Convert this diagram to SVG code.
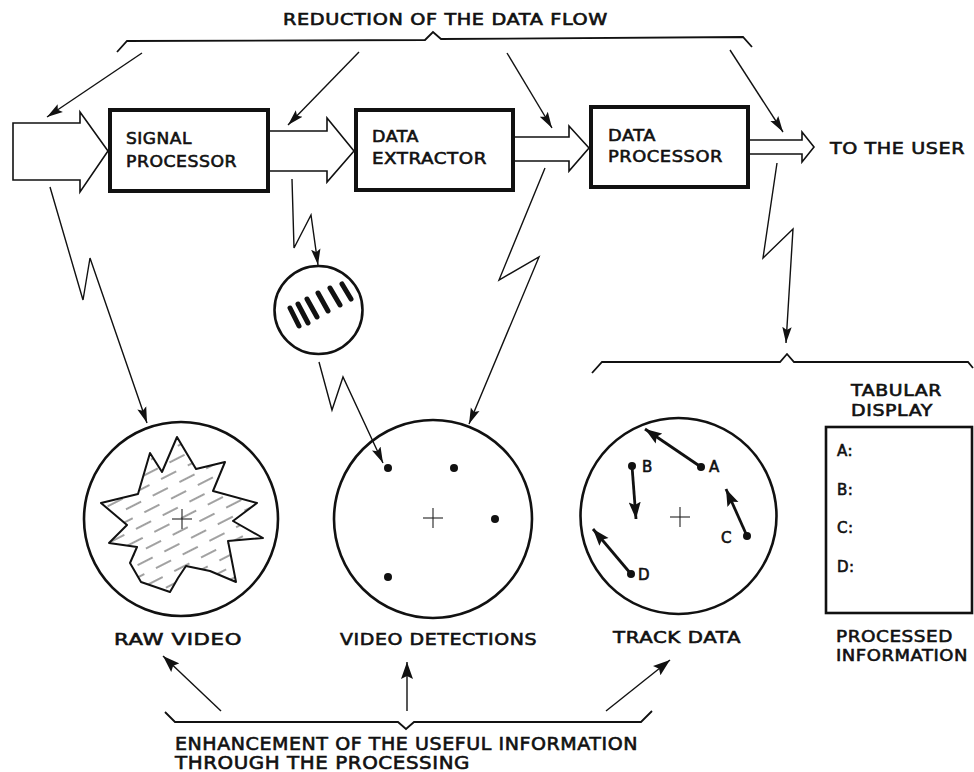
<svg xmlns="http://www.w3.org/2000/svg" width="974" height="772" viewBox="0 0 974 772">
<style>
.bg{fill:#fff}
.box{fill:#fff;stroke:#111;stroke-width:4}
.blk{fill:#fff;stroke:#111;stroke-width:1.6;stroke-linejoin:miter}
.thin{fill:none;stroke:#111;stroke-width:1.4;stroke-linejoin:miter}
.brace{fill:none;stroke:#111;stroke-width:1.8;stroke-linejoin:miter}
.scope{fill:#fff;stroke:#111;stroke-width:2.6}
.cross{stroke:#222;stroke-width:1.1}
.dot{fill:#111}
.trk{stroke:#111;stroke-width:2.8;fill:none}
.bar{stroke:#111;stroke-width:5;stroke-linecap:round}
text{font-family:"DejaVu Sans","Liberation Sans",sans-serif;fill:#111;stroke:#111;stroke-width:0.6;font-size:16px;font-weight:normal;letter-spacing:0.5px}
.t15{font-size:15px}
.t17{font-size:17px}
</style>
<defs>
<marker id="ah" markerUnits="userSpaceOnUse" markerWidth="17" markerHeight="11" refX="16" refY="5.5" orient="auto">
<path d="M0,0.8 L16,5.5 L0,10.2 L3,5.5 z" fill="#111"/>
</marker>
<marker id="ahT" markerUnits="userSpaceOnUse" markerWidth="18" markerHeight="13" refX="17" refY="6.5" orient="auto">
<path d="M0,0.5 L17,6.5 L0,12.5 L3,6.5 z" fill="#111"/>
</marker>
<pattern id="hatch" patternUnits="userSpaceOnUse" width="30" height="22" patternTransform="rotate(-27)">
<line x1="1" y1="5" x2="18" y2="5" stroke="#444" stroke-width="1"/>
<line x1="16" y1="16" x2="30" y2="16" stroke="#444" stroke-width="1"/>
<line x1="0" y1="16" x2="3" y2="16" stroke="#444" stroke-width="1"/>
</pattern>
</defs>
<rect class="bg" x="0" y="0" width="974" height="772"/>

<g id="brace-top">
<path class="brace" d="M117,52 L127,41 L425,40 L433,32 L441,39 L743,37 L752,47"/>
<text class="t15" x="283" y="25" textLength="325" lengthAdjust="spacingAndGlyphs">REDUCTION OF THE DATA FLOW</text>
</g>

<g id="input-arrow">
<polygon class="blk" points="13,123 80,123 80,112 108,151 80,192 80,180 13,180"/>
</g>
<g id="arrow-sp-de">
<polyline class="blk" points="268,131 327,131 327,118 354,151 327,182 327,171 268,171"/>
</g>
<g id="arrow-de-dp">
<polyline class="blk" points="513,137 569,137 569,126 589,148 569,171 569,161 513,161"/>
</g>
<g id="output-arrow">
<polyline class="blk" points="748,140 802,140 802,132 814,147 802,162 802,154 748,154"/>
<text x="830" y="154" textLength="135" lengthAdjust="spacingAndGlyphs">TO THE USER</text>
</g>

<g id="signal-processor">
<rect class="box" x="110" y="110" width="158" height="81"/>
<text x="126" y="144" textLength="66" lengthAdjust="spacingAndGlyphs">SIGNAL</text>
<text x="126" y="167" textLength="111" lengthAdjust="spacingAndGlyphs">PROCESSOR</text>
</g>
<g id="data-extractor">
<rect class="box" x="356" y="110" width="157" height="80"/>
<text x="372" y="142" textLength="47" lengthAdjust="spacingAndGlyphs">DATA</text>
<text x="372" y="164" textLength="115" lengthAdjust="spacingAndGlyphs">EXTRACTOR</text>
</g>
<g id="data-processor">
<rect class="box" x="591" y="107" width="157" height="80"/>
<text x="608" y="141" textLength="48" lengthAdjust="spacingAndGlyphs">DATA</text>
<text x="608" y="162" textLength="115" lengthAdjust="spacingAndGlyphs">PROCESSOR</text>
</g>

<g id="small-display">
<circle class="scope" cx="318.5" cy="310" r="44"/>
<line class="bar" x1="290" y1="308" x2="299" y2="326"/>
<line class="bar" x1="298" y1="304" x2="308" y2="323"/>
<line class="bar" x1="307" y1="299" x2="317" y2="317"/>
<line class="bar" x1="318" y1="293" x2="328" y2="311"/>
<line class="bar" x1="330" y1="288" x2="340" y2="305"/>
<line class="bar" x1="342" y1="284" x2="351" y2="299"/>
</g>

<g id="raw-video">
<circle class="scope" cx="181" cy="519" r="97"/>
<polygon points="150,453 162,472 177,437 196,469 225,462 213,491 257,503 233,521 263,538 228,541 236,582 210,571 186,566 178,578 170,592 141,582 130,563 137,547 109,543 127,525 101,503 138,494" fill="url(#hatch)" stroke="#111" stroke-width="2" stroke-linejoin="round"/>
<line class="cross" x1="172" y1="519" x2="192" y2="519"/>
<line class="cross" x1="182" y1="509" x2="182" y2="529"/>
<text x="114" y="645" textLength="128" lengthAdjust="spacingAndGlyphs">RAW VIDEO</text>
</g>

<g id="video-detections">
<circle class="scope" cx="433" cy="519" r="99"/>
<line class="cross" x1="423" y1="518" x2="443" y2="518"/>
<line class="cross" x1="433" y1="508" x2="433" y2="528"/>
<circle class="dot" cx="388" cy="468" r="4"/>
<circle class="dot" cx="454" cy="468" r="4"/>
<circle class="dot" cx="495" cy="519" r="4"/>
<circle class="dot" cx="388" cy="577" r="4"/>
<text x="340" y="645" textLength="197" lengthAdjust="spacingAndGlyphs">VIDEO  DETECTIONS</text>
</g>

<g id="track-data">
<circle class="scope" cx="678.5" cy="516" r="98"/>
<line class="cross" x1="670" y1="517" x2="690" y2="517"/>
<line class="cross" x1="680" y1="507" x2="680" y2="527"/>
<line class="trk" x1="701" y1="467" x2="645" y2="429" marker-end="url(#ahT)"/>
<circle class="dot" cx="701" cy="467" r="4"/>
<line class="trk" x1="632" y1="466" x2="636" y2="519" marker-end="url(#ahT)"/>
<circle class="dot" cx="632" cy="466" r="4"/>
<line class="trk" x1="747" y1="536" x2="726" y2="489" marker-end="url(#ahT)"/>
<circle class="dot" cx="747" cy="536" r="4"/>
<line class="trk" x1="631" y1="574" x2="593" y2="529" marker-end="url(#ahT)"/>
<circle class="dot" cx="631" cy="574" r="4"/>
<text class="t15" x="709" y="472">A</text>
<text class="t15" x="642" y="472">B</text>
<text class="t15" x="721" y="543">C</text>
<text class="t15" x="638" y="580">D</text>
<text x="613" y="643" textLength="128" lengthAdjust="spacingAndGlyphs">TRACK DATA</text>
</g>

<g id="tabular-display">
<text class="t15" x="851" y="396" textLength="91" lengthAdjust="spacingAndGlyphs">TABULAR</text>
<text class="t15" x="851" y="416" textLength="82" lengthAdjust="spacingAndGlyphs">DISPLAY</text>
<rect x="826" y="427" width="146" height="186" fill="#fff" stroke="#111" stroke-width="2.6"/>
<text class="t15" x="837" y="456">A:</text>
<text class="t15" x="837" y="495">B:</text>
<text class="t15" x="837" y="533">C:</text>
<text class="t15" x="837" y="572">D:</text>
<text x="836" y="642" textLength="117" lengthAdjust="spacingAndGlyphs">PROCESSED</text>
<text x="836" y="661" textLength="132" lengthAdjust="spacingAndGlyphs">INFORMATION</text>
</g>

<g id="brace-right">
<path class="brace" d="M592,373 L602,362 L780,362 L787,354 L794,362 L968,362 L973,368"/>
</g>

<g id="brace-bottom">
<path class="brace" d="M165,712 L175,722 L398,722 L406,729 L414,722 L641,722 L652,711"/>
<text class="t17" x="175" y="750" textLength="463" lengthAdjust="spacingAndGlyphs">ENHANCEMENT OF THE USEFUL INFORMATION</text>
<text class="t17" x="175" y="769" textLength="295" lengthAdjust="spacingAndGlyphs">THROUGH THE PROCESSING</text>
</g>

<g id="connectors">
<line class="thin" x1="142" y1="53" x2="47" y2="117" marker-end="url(#ah)"/>
<line class="thin" x1="359" y1="52" x2="288" y2="125" marker-end="url(#ah)"/>
<line class="thin" x1="507" y1="53" x2="552" y2="128" marker-end="url(#ah)"/>
<line class="thin" x1="730" y1="50" x2="783" y2="132" marker-end="url(#ah)"/>
<polyline class="thin" points="50,187 83,300 90,258 147,423" marker-end="url(#ah)"/>
<polyline class="thin" points="292,179 294,248 311,215 318,265" marker-end="url(#ah)"/>
<polyline class="thin" points="319,362 332,410 343,377 383,463" marker-end="url(#ah)"/>
<polyline class="thin" points="545,168 499,280 539,257 469,424" marker-end="url(#ah)"/>
<polyline class="thin" points="777,163 763,258 793,229 786,343" marker-end="url(#ah)"/>
<line class="thin" x1="221" y1="711" x2="163" y2="656" marker-end="url(#ahT)"/>
<line class="thin" x1="407" y1="711" x2="407" y2="662" marker-end="url(#ahT)"/>
<line class="thin" x1="606" y1="711" x2="670" y2="660" marker-end="url(#ahT)"/>
</g>
</svg>
